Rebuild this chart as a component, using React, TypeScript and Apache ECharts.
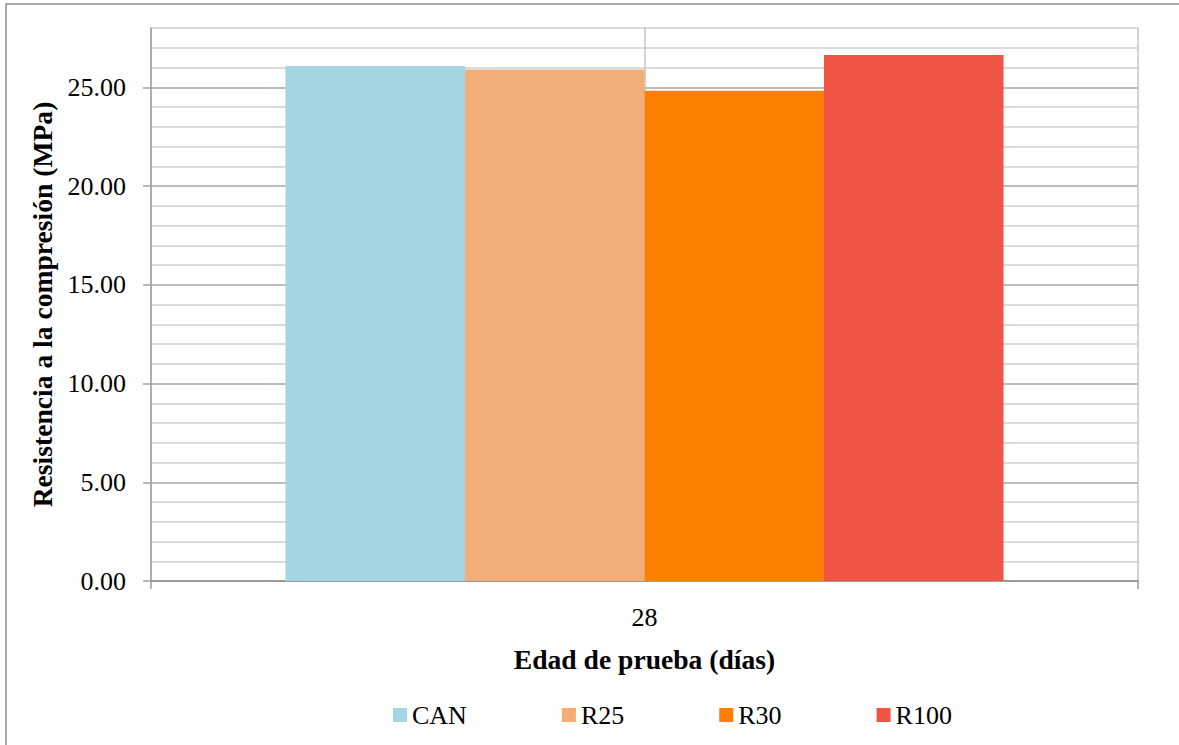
import React, { useEffect, useRef } from "react";
import * as echarts from "echarts";

const categories = ["28"];
const seriesNames = ["CAN", "R25", "R30", "R100"];
const seriesValues = [26.07, 25.9, 24.82, 26.63];
const seriesColors = ["#a3d5e3", "#f3ad76", "#fe8000", "#ef5444"];
const yMin = 0;
const yMax = 28;
const yMajorStep = 5;
const yMajorTicks = [0, 5, 10, 15, 20, 25];

const FONT = "Liberation Serif";

export default function App() {
  const ref = useRef<HTMLDivElement>(null);
  useEffect(() => {
    if (!ref.current) return;
    const chart = echarts.init(ref.current, undefined, { renderer: "svg" });
    const option: any = {
      animation: false,
      backgroundColor: "#ffffff",
      textStyle: { fontFamily: FONT },
      graphic: [
        {
          type: "rect",
          shape: { x: 6, y: 4, width: 1300, height: 900 },
          style: { fill: "none", stroke: "#8e8e8e", lineWidth: 1.5 },
          silent: true,
          z: -10,
        },
      ],
      grid: { left: 151, top: 28, right: 41, bottom: 164, containLabel: false },
      legend: {
        data: seriesNames,
        left: 388,
        top: 697,
        icon: "rect",
        itemWidth: 14,
        itemHeight: 14,
        itemGap: 95,
        textStyle: { fontFamily: FONT, fontSize: 26, color: "#000" },
      },
      xAxis: [
        {
          type: "category",
          data: categories,
          boundaryGap: true,
          axisLine: { show: true, lineStyle: { color: "#9a9a9a", width: 1.8 } },
          axisTick: { show: true, length: 8, lineStyle: { color: "#9a9a9a", width: 1.5 } },
          axisLabel: { fontFamily: FONT, fontSize: 26, color: "#000", margin: 23 },
          splitLine: { show: false },
          name: "Edad de prueba (días)",
          nameLocation: "middle",
          nameGap: 64,
          nameTextStyle: { fontFamily: FONT, fontSize: 27.6, fontWeight: "bold", color: "#000" },
        },
        {
          type: "value",
          min: 0,
          max: 2,
          interval: 1,
          show: true,
          axisLine: { show: false },
          axisTick: { show: false },
          axisLabel: { show: false },
          splitLine: { show: true, lineStyle: { color: "#c4c4c4", width: 1.5 } },
        },
      ],
      yAxis: [
        {
          type: "value",
          min: yMin,
          max: yMax,
          interval: 1,
          axisLine: { show: true, lineStyle: { color: "#a0a0a0", width: 1.5 } },
          axisTick: { show: false },
          axisLabel: {
            fontFamily: FONT,
            fontSize: 26,
            color: "#000",
            margin: 25,
            formatter: (v: number) => (v % yMajorStep === 0 ? v.toFixed(2) : ""),
          },
          splitLine: {
            show: true,
            lineStyle: { color: ["#a6a6a6", "#cfcfcf", "#cfcfcf", "#cfcfcf", "#cfcfcf"], width: 1.5 },
          },
          name: "Resistencia a la compresión (MPa)",
          nameLocation: "middle",
          nameGap: 93,
          nameTextStyle: { fontFamily: FONT, fontSize: 27.6, fontWeight: "bold", color: "#000" },
        },
        {
          type: "value",
          position: "left",
          min: yMin,
          max: yMax,
          interval: yMajorStep,
          axisLine: { show: false },
          axisTick: { show: true, length: 8, customValues: yMajorTicks, lineStyle: { color: "#a0a0a0", width: 1.5 } },
          axisLabel: { show: false },
          splitLine: { show: false },
        },
      ],
      series: seriesNames.map((name, i) => ({
        name,
        type: "bar",
        xAxisIndex: 0,
        yAxisIndex: 0,
        data: [seriesValues[i]],
        barWidth: 179.5,
        barGap: "0%",
        itemStyle: { color: seriesColors[i] },
      })),
    };
    chart.setOption(option);
    return () => chart.dispose();
  }, []);
  return (
    <div
      ref={ref}
      style={{ position: "fixed", left: 0, top: 0, width: 1179, height: 745, background: "#fff" }}
    />
  );
}
